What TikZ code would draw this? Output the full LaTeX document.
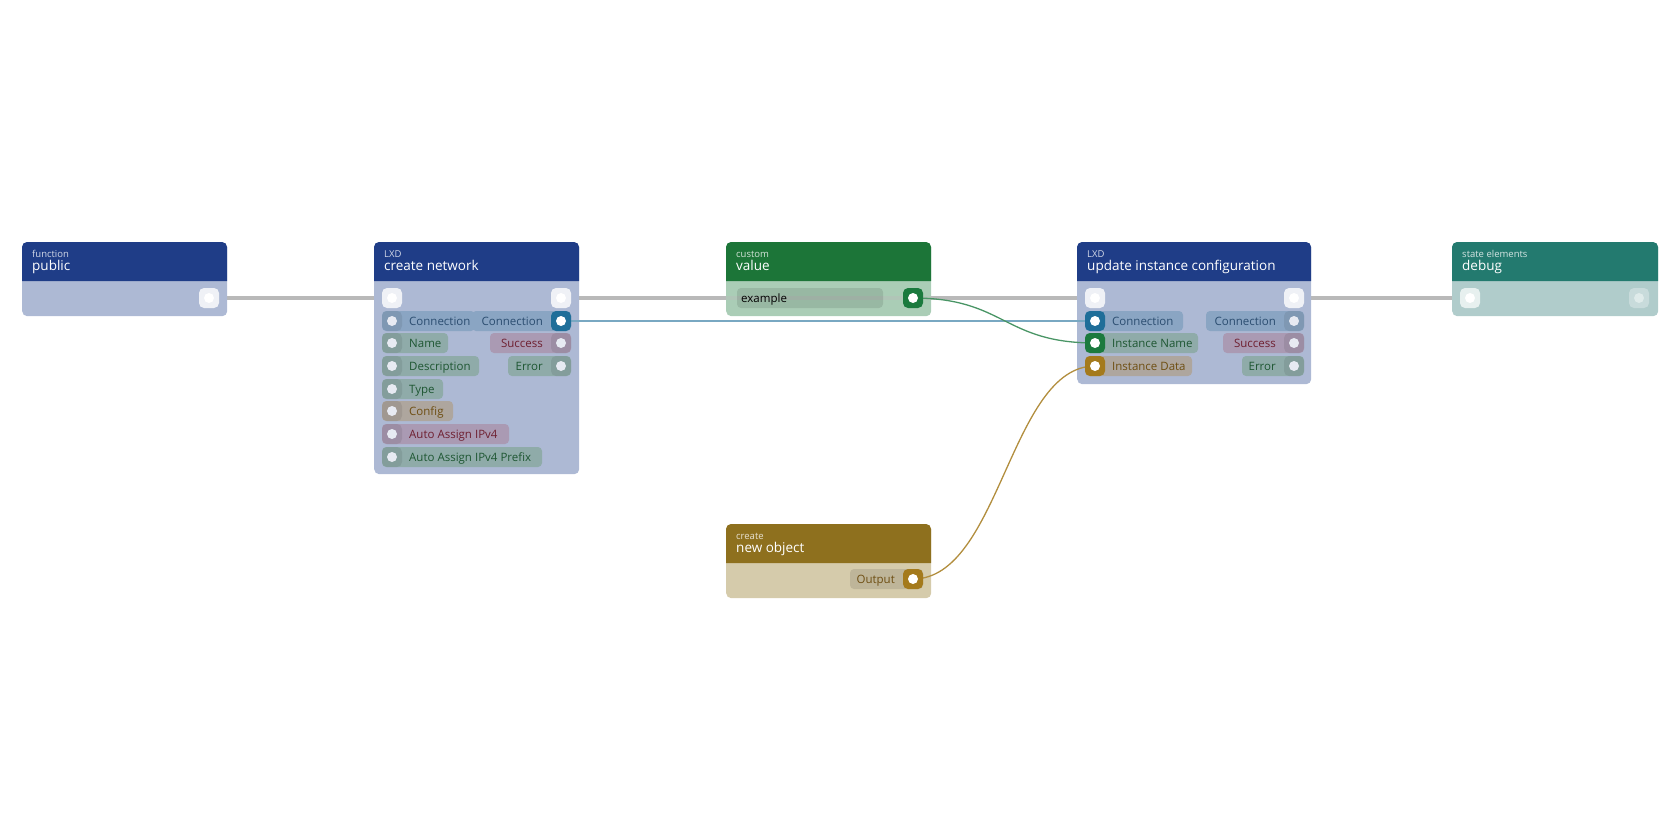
\documentclass[tikz,border=0pt]{standalone}
\usepackage{fontspec}
\setmainfont{Open Sans}
\begin{document}
\definecolor{hdrblue}{HTML}{1F3D87}\definecolor{bodyblue}{HTML}{ADB9D4}
\definecolor{pconn}{HTML}{8AA5C3}\definecolor{tconn}{HTML}{2B4D70}
\definecolor{pgreen}{HTML}{8FABA9}\definecolor{tgreen}{HTML}{1E5632}
\definecolor{pred}{HTML}{AA9AB3}\definecolor{tred}{HTML}{6E1F30}
\definecolor{ptan}{HTML}{AEA69E}\definecolor{ttan}{HTML}{6E4E12}
\definecolor{hdrgreen}{HTML}{1C7538}\definecolor{bodygreen}{HTML}{AACDB6}
\definecolor{hdrteal}{HTML}{237A6F}\definecolor{bodyteal}{HTML}{B0CCCB}
\definecolor{hdrbrown}{HTML}{8E701E}\definecolor{bodybrown}{HTML}{D5CBAB}
\definecolor{kblue}{HTML}{1F6E99}\definecolor{kgreen}{HTML}{1B7A3E}\definecolor{kbrown}{HTML}{A47A1C}
\newcommand\nodebox[8]{% name,x0,x1,y0,y1,hdr,body,cat
  \node[fill=#7,rounded corners=5,inner sep=0,minimum width=#3-#2,minimum height=#5-#4,anchor=north west] (#1) at (#2,#4) {};
  \fill[#6] (#2,#4+39) [rounded corners=5]-- (#2,#4) -- (#3,#4) [sharp corners]-- (#3,#4+39) -- cycle;
  \node[anchor=base west,text=white!80!#6,font=\fontsize{9.5}{9.5}\selectfont,inner sep=0] (#1-cat) at (#2+10,#4+15) {#8};}
\newcommand\ttl[4]{\node[anchor=base west,text=white,font=\fontsize{13.5}{13.5}\selectfont,inner sep=0] (#1-t) at (#2+10,#3+28) {#4};}
\newcommand\lpill[6]{\fill[#4,rounded corners=4] (#1,#3-10) rectangle (#2,#3+10);
  \node[anchor=base west,text=#5,font=\fontsize{11.5}{11.5}\selectfont,inner sep=0] at (#1+27,#3+4) {#6};}
\newcommand\rpill[6]{\fill[#4,rounded corners=4] (#1,#3-10) rectangle (#2,#3+10);
  \node[anchor=base east,text=#5,font=\fontsize{11.5}{11.5}\selectfont,inner sep=0] at (#2-28,#3+4) {#6};}
\tikzset{knob/.style={rectangle,rounded corners=5,minimum size=20,inner sep=0},
  exec/.style={line width=4,draw=gray!55},
  dk/.style={knob,fill=black,fill opacity=0.08},
  ek/.style={knob,fill=white!80!bodyblue}}
\newcommand\kdot[2]{\fill[#2] (#1) circle (5);}
\begin{tikzpicture}[x=1pt,y=-1pt]
\useasboundingbox (0,0) rectangle (1680,840);
% port coordinates
\coordinate (pub-out) at (209,298);
\coordinate (cn-in) at (392,298); \coordinate (cn-eout) at (561,298); \coordinate (cn-conn) at (561,321);
\coordinate (val-out) at (913,298);
\coordinate (upd-in) at (1095,298); \coordinate (upd-eout) at (1294,298);
\coordinate (upd-conn) at (1095,321); \coordinate (upd-name) at (1095,343); \coordinate (upd-data) at (1095,366);
\coordinate (dbg-in) at (1470,298);
\coordinate (no-out) at (913,579);
% edges
\draw[exec] (pub-out) -- (cn-in); \draw[exec] (cn-eout) -- (upd-in); \draw[exec] (upd-eout) -- (dbg-in);
% nodes
\nodebox{pub}{22}{227}{242}{316}{hdrblue}{bodyblue}{function}\ttl{pub}{22}{242}{public}
\nodebox{cn}{374}{579}{242}{474}{hdrblue}{bodyblue}{LXD}\ttl{cn}{374}{242}{create network}
\nodebox{val}{726}{931}{242}{316}{hdrgreen}{bodygreen}{custom}\ttl{val}{726}{242}{value}
\nodebox{upd}{1077}{1311}{242}{384}{hdrblue}{bodyblue}{LXD}\ttl{upd}{1077}{242}{update instance configuration}
\nodebox{dbg}{1452}{1658}{242}{316}{hdrteal}{bodyteal}{state elements}\ttl{dbg}{1452}{242}{debug}
\nodebox{no}{726}{931}{524}{598}{hdrbrown}{bodybrown}{create}\ttl{no}{726}{524}{new object}
\draw[exec,draw opacity=0.4] (val.west|-pub-out) -- (val.east|-pub-out);
% connectors (data)
\draw[color=kblue!60!white,line width=1.5] (cn-conn) -- (upd-conn);
\draw[color=kgreen!80!white,line width=1.3] (val-out) .. controls (1005,298) and (1003,343) .. (upd-name);
\draw[color=kbrown!85!white,line width=1.3] (no-out) .. controls (1000,579) and (1010,366) .. (upd-data);
% public
\node[ek] at (pub-out) {}; \kdot{pub-out}{white}
% create network
\node[ek] at (cn-in) {}; \kdot{cn-in}{white}
\node[ek] at (cn-eout) {}; \kdot{cn-eout}{white}
\lpill{382}{475}{321}{pconn}{tconn}{Connection}
\rpill{472}{571}{321}{pconn}{tconn}{Connection}
\lpill{382}{448}{343}{pgreen}{tgreen}{Name}
\lpill{382}{479}{366}{pgreen}{tgreen}{Description}
\lpill{382}{443}{389}{pgreen}{tgreen}{Type}
\lpill{382}{453}{411}{ptan}{ttan}{Config}
\lpill{382}{509}{434}{pred}{tred}{Auto Assign IPv4}
\lpill{382}{542}{457}{pgreen}{tgreen}{Auto Assign IPv4 Prefix}
\rpill{490}{571}{343}{pred}{tred}{Success}
\rpill{508}{571}{366}{pgreen}{tgreen}{Error}
\foreach \yy in {321,343,366,389,411,434,457}{\node[dk] at (392,\yy) {}; \fill[white!70!bodyblue] (392,\yy) circle (5);}
\foreach \yy in {343,366}{\node[dk] at (561,\yy) {}; \fill[white!70!bodyblue] (561,\yy) circle (5);}
\node[knob,fill=kblue] at (cn-conn) {}; \kdot{cn-conn}{white}
% value
\fill[black,fill opacity=0.1,rounded corners=4] (737,288) rectangle (883,308);
\node[anchor=base west,font=\fontsize{11.5}{11.5}\selectfont,inner sep=0] at (741,302) {example};
\node[knob,fill=kgreen] at (val-out) {}; \kdot{val-out}{white}
% update
\node[ek] at (upd-in) {}; \kdot{upd-in}{white}
\node[ek] at (upd-eout) {}; \kdot{upd-eout}{white}
\lpill{1085}{1183}{321}{pconn}{tconn}{Connection}
\lpill{1085}{1198}{343}{pgreen}{tgreen}{Instance Name}
\lpill{1085}{1192}{366}{ptan}{ttan}{Instance Data}
\rpill{1206}{1304}{321}{pconn}{tconn}{Connection}
\rpill{1223}{1304}{343}{pred}{tred}{Success}
\rpill{1242}{1304}{366}{pgreen}{tgreen}{Error}
\foreach \yy in {321,343,366}{\node[dk] at (1294,\yy) {}; \fill[white!70!bodyblue] (1294,\yy) circle (5);}
\node[knob,fill=kblue] at (upd-conn) {}; \kdot{upd-conn}{white}
\node[knob,fill=kgreen] at (upd-name) {}; \kdot{upd-name}{white}
\node[knob,fill=kbrown] at (upd-data) {}; \kdot{upd-data}{white}
% debug
\node[knob,fill=white!70!bodyteal] at (dbg-in) {}; \kdot{dbg-in}{white}
\node[knob,fill=white!30!bodyteal] (dbg-out) at (1639,298) {}; \kdot{dbg-out}{white!60!bodyteal}
% new object
\fill[black!30!bodybrown,fill opacity=0.35,rounded corners=4] (850,569) rectangle (923,589);
\node[anchor=base east,text=ttan,font=\fontsize{11.5}{11.5}\selectfont,inner sep=0] at (895,583) {Output};
\node[knob,fill=kbrown] at (no-out) {}; \kdot{no-out}{white}
\end{tikzpicture}
\end{document}
